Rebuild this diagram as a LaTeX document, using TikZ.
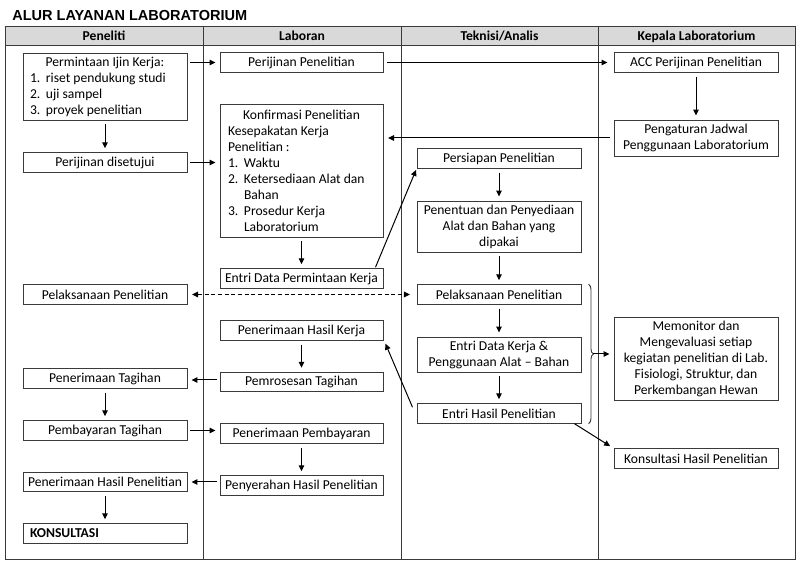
\documentclass[tikz,border=0pt]{standalone}
\usepackage{fontspec}
\setmainfont{Carlito}
\newfontfamily\titlefont{Liberation Sans}
\usetikzlibrary{arrows.meta,decorations.pathreplacing,calc}
\definecolor{lc}{HTML}{3A3A3A}
\definecolor{hdr}{HTML}{D9D9D9}
\newcommand\itm[1]{\makebox[12pt][l]{#1}}
\newcommand\fs{\fontsize{10.2}{12}\selectfont}
\begin{document}
\begin{tikzpicture}[x=0.75pt,y=-0.75pt,
  box/.style={draw=lc, line width=0.7pt, minimum width=123pt, minimum height=14.6pt,
    inner sep=0pt, font=\fs, align=center},
  hd/.style={inner sep=0pt, anchor=base, font=\bfseries\fs},
  arr/.style={-{Triangle[length=4.5pt,width=4.2pt]}, draw=black, line width=0.75pt, shorten <=2pt, shorten >=3pt},
  varr/.style={arr, shorten <=3pt, shorten >=3pt},
  darr/.style={{Triangle[length=4.5pt,width=4.2pt]}-{Triangle[length=4.5pt,width=4.2pt]}, line width=0.75pt,
    dash pattern=on 3pt off 2pt, shorten <=3.5pt, shorten >=5pt},
  tbl/.style={draw=lc, line width=0.75pt}]
\useasboundingbox (0,0) rectangle (800,566);
% title
\node[anchor=base west, inner sep=0pt, font=\titlefont\bfseries\fontsize{10.9}{12}\selectfont] (title) at (12,20.7) {ALUR LAYANAN LABORATORIUM};
% table
\fill[hdr] (5,27) rectangle (795,45.5);
\draw[tbl] (5,27) rectangle (795,559);
\draw[tbl] (5,45.5) -- (795,45.5);
\foreach \x in {203,401,598} \draw[tbl] (\x,27) -- (\x,559);
\node[hd] (h1) at (104,40.5) {Peneliti};
\node[hd] (h2) at (302,40.5) {Laboran};
\node[hd] (h3) at (499.5,40.5) {Teknisi/Analis};
\node[hd] (h4) at (696.5,40.5) {Kepala Laboratorium};
% Peneliti
\node[box, minimum height=50.25pt] (perm) at (105,86.5)
  {\begin{minipage}{112.5pt}\fs{\centering Permintaan Ijin Kerja:\par}\raggedright\itm{1.}riset pendukung studi\\\itm{2.}uji sampel\\\itm{3.}proyek penelitian\end{minipage}};
\node[box] (setuju) at (105,162.5) {Perijinan disetujui};
\node[box] (plksL) at (105,294.5) {Pelaksanaan Penelitian};
\node[box] (tagih) at (105,378.5) {Penerimaan Tagihan};
\node[box] (bayar) at (105,430.5) {Pembayaran Tagihan};
\node[box] (hasilP) at (105,482) {Penerimaan Hasil Penelitian};
\node[box, font=\bfseries\fs] (kons) at (105,533.5) {\makebox[112.5pt][l]{KONSULTASI}};
% Laboran
\node[box, minimum width=122.25pt] (izin) at (301.5,62.5) {Perijinan Penelitian};
\node[box, minimum width=122.25pt, minimum height=99.75pt] (konf) at (301.5,170.5)
  {\begin{minipage}{110.25pt}\fs{\centering Konfirmasi Penelitian\par}\raggedright Kesepakatan Kerja\\Penelitian :\\\itm{1.}Waktu\\\itm{2.}Ketersediaan Alat dan\\\itm{}Bahan\\\itm{3.}Prosedur Kerja\\\itm{}Laboratorium\end{minipage}};
\node[box, minimum width=122.25pt] (entri) at (301.5,278.5) {Entri Data Permintaan Kerja};
\node[box, minimum width=122.25pt] (terimaHK) at (301.5,330.5) {Penerimaan Hasil Kerja};
\node[box, minimum width=122.25pt] (proses) at (301.5,382) {Pemrosesan Tagihan};
\node[box, minimum width=122.25pt] (terimaBayar) at (301.5,433.5) {Penerimaan Pembayaran};
\node[box, minimum width=122.25pt] (serah) at (301.5,485.5) {Penyerahan Hasil Penelitian};
% Teknisi
\node[box] (siap) at (499,158.5) {Persiapan Penelitian};
\node[box, minimum height=38.25pt] (tentu) at (499,226.5) {Penentuan dan Penyediaan\\Alat dan Bahan yang\\dipakai};
\node[box] (plksT) at (499,294.5) {Pelaksanaan Penelitian};
\node[box, minimum height=26.25pt] (entriK) at (499,354.5) {Entri Data Kerja \&\\Penggunaan Alat – Bahan};
\node[box] (entriH) at (499,413.5) {Entri Hasil Penelitian};
% Kepala
\node[box] (acc) at (696,62.5) {ACC Perijinan Penelitian};
\node[box, minimum height=27pt] (atur) at (696,138) {Pengaturan Jadwal\\Penggunaan Laboratorium};
\node[box, minimum height=62.25pt] (monitor) at (696,358.5) {Memonitor dan\\Mengevaluasi setiap\\kegiatan penelitian di Lab.\\Fisiologi, Struktur, dan\\Perkembangan Hewan};
\node[box] (konsH) at (696,458.5) {Konsultasi Hasil Penelitian};
% connectors
\draw[arr] (perm.east |- izin.west) -- (izin.west);
\draw[varr] (perm.south) -- (setuju.north);
\draw[arr] (setuju.east) -- (setuju.east -| konf.west);
\draw[arr, shorten <=3pt, shorten >=4.5pt] (izin.east) -- (izin.east -| acc.west);
\draw[varr] (acc.south) -- (atur.north);
\draw[arr, shorten <=3pt, shorten >=3.5pt] (atur.west) -- (atur.west -| konf.east);
\draw[varr] (konf.south) -- (entri.north);
\draw[arr, shorten <=0pt, shorten >=1pt] ([xshift=-6pt,yshift=0.75pt]entri.north east) -- (siap.south west);
\draw[varr] (siap.south) -- (tentu.north);
\draw[varr] (tentu.south) -- (plksT.north);
\draw[varr] (plksT.south) -- (entriK.north);
\draw[varr] (entriK.south) -- (entriH.north);
\draw[darr] (plksL.east) -- (plksT.west);
\draw[arr, shorten <=0pt, shorten >=0pt] ([xshift=-3pt,yshift=-3pt]entriH.north west) -- ([xshift=1.5pt,yshift=-2.25pt]terimaHK.south east);
\draw[varr] (terimaHK.south) -- (proses.north);
\draw[arr] ([yshift=1.5pt]proses.west) -- ([yshift=1.5pt]proses.west -| tagih.east);
\draw[varr] (tagih.south) -- (bayar.north);
\draw[arr] (bayar.east) -- (bayar.east -| terimaBayar.west);
\draw[varr] (terimaBayar.south) -- (serah.north);
\draw[arr] (serah.west |- hasilP.east) -- (hasilP.east);
\draw[varr] (hasilP.south) -- (kons.north);
% brace
\coordinate (bt) at ([xshift=5.25pt]plksT.north east);
\coordinate (bb) at ([xshift=5.25pt]entriH.south east);
\draw[lc, line width=0.7pt, decorate, decoration={brace, amplitude=3.75pt}] (bt) -- (bb);
\coordinate (btip) at ($(bt)!0.5!(bb)+(3.75pt,0)$);
\draw[arr, shorten <=0pt, shorten >=3pt] (btip) -- (btip -| monitor.west);
\draw[arr, shorten <=0pt, shorten >=3pt] ([xshift=-5.25pt]entriH.south east) -- (konsH.north west);
\end{tikzpicture}
\end{document}
